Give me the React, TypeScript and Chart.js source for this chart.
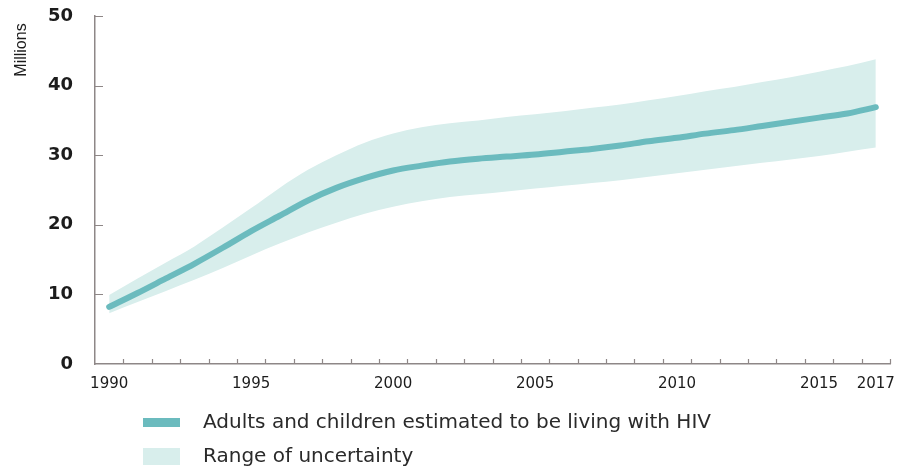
import React, { useEffect, useRef } from 'react';
import { Chart, registerables } from 'chart.js';

Chart.register(...registerables);

const years = [
  '1990', '1991', '1992', '1993', '1994', '1995', '1996', '1997', '1998', '1999',
  '2000', '2001', '2002', '2003', '2004', '2005', '2006', '2007', '2008', '2009',
  '2010', '2011', '2012', '2013', '2014', '2015', '2016', '2017',
];
const shownYearLabels = ['1990', '1995', '2000', '2005', '2010', '2015', '2017'];

const estimate = [
  8.2, 10.2, 12.3, 14.4, 16.7, 19.1, 21.3, 23.5, 25.3, 26.7,
  27.8, 28.5, 29.1, 29.5, 29.8, 30.1, 30.5, 30.9, 31.4, 32.0,
  32.5, 33.1, 33.6, 34.2, 34.8, 35.4, 36.0, 36.9,
];
const upperBound = [
  9.9, 12.3, 14.6, 16.9, 19.6, 22.4, 25.3, 27.9, 30.0, 31.8,
  33.1, 34.0, 34.6, 35.0, 35.5, 35.9, 36.3, 36.8, 37.3, 37.9,
  38.5, 39.2, 39.8, 40.5, 41.2, 42.0, 42.8, 43.8,
];
const lowerBound = [
  7.3, 8.9, 10.5, 12.1, 13.8, 15.6, 17.3, 18.9, 20.3, 21.6,
  22.6, 23.4, 24.0, 24.4, 24.8, 25.2, 25.6, 26.0, 26.4, 26.9,
  27.4, 27.9, 28.4, 28.9, 29.4, 29.9, 30.5, 31.1,
];
const yTicks = [0, 10, 20, 30, 40, 50];

const legendLabels = ['Adults and children estimated to be living with HIV', 'Range of uncertainty'];
const axisTitle = 'Millions';

const lineColor = '#6bbbbe';
const bandColor = '#d8eeec';
const axisColor = '#8e8787';
const textColor = '#1c1c1c';
const legendTextColor = '#2a2a2a';

export default function App() {
  const canvasRef = useRef<HTMLCanvasElement | null>(null);

  useEffect(() => {
    const canvas = canvasRef.current;
    if (!canvas) return;

    const decorPlugin = {
      id: 'decor',
      afterDraw(chart: any) {
        const ctx = chart.ctx as CanvasRenderingContext2D;
        const xs = chart.scales.x;
        const ys = chart.scales.y;
        ctx.save();
        // inward tick marks
        ctx.strokeStyle = axisColor;
        ctx.lineWidth = 1.2;
        ctx.beginPath();
        for (let i = 1; i <= years.length; i++) {
          const px = Math.round(xs.getPixelForValue(i - 0.5)) + 0.5;
          ctx.moveTo(px, ys.bottom);
          ctx.lineTo(px, ys.bottom - 5);
        }
        yTicks.forEach((v) => {
          if (v === 0) return;
          const py = Math.round(ys.getPixelForValue(v)) + 0.5;
          ctx.moveTo(xs.left, py);
          ctx.lineTo(xs.left + 8, py);
        });
        ctx.stroke();

        // axis title
        ctx.fillStyle = textColor;
        ctx.font = '16px "Liberation Sans", Arial, sans-serif';
        ctx.textAlign = 'center';
        ctx.textBaseline = 'middle';
        ctx.save();
        ctx.translate(22, 50);
        ctx.rotate(-Math.PI / 2);
        ctx.fillText(axisTitle, 0, 0);
        ctx.restore();

        // legend
        ctx.fillStyle = lineColor;
        ctx.fillRect(143, 418, 37, 9);
        ctx.fillStyle = bandColor;
        ctx.fillRect(143, 448, 37, 17);
        ctx.fillStyle = legendTextColor;
        ctx.font = '20px "DejaVu Sans", sans-serif';
        ctx.textAlign = 'left';
        ctx.textBaseline = 'middle';
        ctx.fillText(legendLabels[0], 203, 423);
        ctx.fillText(legendLabels[1], 203, 457);
        ctx.restore();
      },
    };

    const chart = new Chart(canvas, {
      type: 'line',
      data: {
        labels: years,
        datasets: [
          {
            label: legendLabels[0],
            data: estimate,
            borderColor: lineColor,
            borderWidth: 6,
            borderCapStyle: 'round',
            borderJoinStyle: 'round',
            pointRadius: 0,
            fill: false,
            cubicInterpolationMode: 'monotone',
          },
          {
            label: legendLabels[1],
            data: upperBound,
            borderWidth: 0,
            borderColor: 'rgba(0,0,0,0)',
            backgroundColor: bandColor,
            pointRadius: 0,
            fill: '+1',
            cubicInterpolationMode: 'monotone',
          },
          {
            label: 'lower',
            data: lowerBound,
            borderWidth: 0,
            borderColor: 'rgba(0,0,0,0)',
            backgroundColor: bandColor,
            pointRadius: 0,
            fill: false,
            cubicInterpolationMode: 'monotone',
          },
        ],
      },
      options: {
        responsive: false,
        animation: false,
        layout: { padding: { top: 16, right: 8, left: 0, bottom: 0 } },
        plugins: {
          legend: { display: false },
          tooltip: { enabled: false },
        },
        scales: {
          x: {
            type: 'category',
            offset: true,
            grid: { display: false, drawTicks: false, offset: true },
            border: { display: true, color: axisColor, width: 1.5 },
            ticks: {
              autoSkip: false,
              maxRotation: 0,
              minRotation: 0,
              padding: 11,
              color: textColor,
              font: { family: '"DejaVu Sans", sans-serif', size: 15 },
              callback: function (_val: any, idx: number) {
                const l = years[idx];
                return shownYearLabels.includes(l) ? l : '';
              },
            },
            afterFit: (s: any) => {
              s.height = 103;
              s.paddingLeft = 0;
              s.paddingRight = 0;
            },
          },
          y: {
            min: 0,
            max: 50,
            grid: { display: false, drawTicks: false },
            border: { display: true, color: axisColor, width: 1.5 },
            ticks: {
              stepSize: 10,
              padding: 22,
              color: textColor,
              font: { family: '"DejaVu Sans", sans-serif', size: 18, weight: 'bold' },
            },
            afterFit: (s: any) => {
              s.width = 95;
              s.paddingTop = 0;
              s.paddingBottom = 0;
            },
          },
        },
      },
      plugins: [decorPlugin],
    } as any);

    return () => {
      chart.destroy();
    };
  }, []);

  return (
    <div style={{ position: 'fixed', left: 0, top: 0, width: 898, height: 467, background: '#fff' }}>
      <canvas ref={canvasRef} width={898} height={467} />
    </div>
  );
}
